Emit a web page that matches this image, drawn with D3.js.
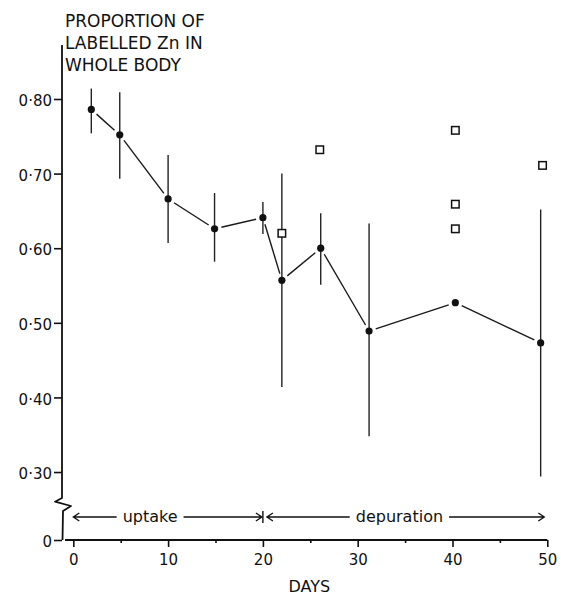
<!DOCTYPE html>
<html>
<head>
<meta charset="utf-8">
<script src="https://cdn.jsdelivr.net/npm/d3@7"></script>
<style>
  html, body { margin: 0; padding: 0; background: #fff; }
  svg { display: block; }
  text { font-family: "DejaVu Sans", sans-serif; fill: #111; }
</style>
</head>
<body>
<svg id="chart" width="564" height="597"></svg>
<script>
// Mean proportion of labelled Zn retained, with ranges
const days   = [1.9, 4.9, 10, 14.9, 20, 22, 26.1, 31.2, 40.3, 49.3];
const means  = [0.786, 0.752, 0.666, 0.626, 0.641, 0.557, 0.600, 0.489, 0.527, 0.473];
const upper  = [0.814, 0.809, 0.725, 0.674, 0.662, 0.700, 0.647, 0.633, null, 0.652];
const lower  = [0.754, 0.693, 0.607, 0.582, 0.619, 0.414, 0.551, 0.348, null, 0.294];

// Individual values shown as open squares
const squareDays   = [22, 26, 40.3, 40.3, 40.3, 49.5];
const squareValues = [0.620, 0.732, 0.758, 0.659, 0.626, 0.711];

// Axis ticks
const xMajorTicks = [0, 10, 20, 30, 40, 50];
const xMinorTicks = [5, 15, 25, 35, 45];
const yTicks      = [0, 0.30, 0.40, 0.50, 0.60, 0.70, 0.80];

// Experimental phases along the time axis
const phaseNames  = ["uptake", "depuration"];
const phaseStart  = [0, 20];
const phaseEnd    = [20, 50];
const phaseLabelAt = [8.1, 34.4];

const titleLines = ["PROPORTION OF", "LABELLED Zn IN", "WHOLE BODY"];
const xTitle = "DAYS";

const svg = d3.select("#chart");
const ink = "#111";

// Scales: y axis is broken between 0 and 0.30
const x = d3.scaleLinear().domain([0, 50]).range([73.3, 547.3]);
const y = d3.scaleLinear().domain([0, 0.24, 0.80]).range([540, 516.8, 99]);

const axisX = 62;
const axisBottom = 540;

// Y axis line with break zigzag
svg.append("path")
  .attr("d", `M${axisX},45 L${axisX},498 L${axisX - 7},501.7 L${axisX + 9},506 L${axisX + 1},511 L${axisX + 0.5},${axisBottom}`)
  .attr("fill", "none").attr("stroke", ink).attr("stroke-width", 1.8)
  .attr("stroke-linejoin", "round");

const fmtY = v => v === 0 ? "0" : d3.format(".2f")(v).replace(".", "\u00b7");

const yAxis = svg.append("g")
  .attr("transform", `translate(${axisX},0)`)
  .call(d3.axisLeft(y).tickValues(yTicks).tickSize(8).tickPadding(2).tickFormat(fmtY));
yAxis.select(".domain").remove();
yAxis.selectAll(".tick line").attr("stroke", ink).attr("stroke-width", 1.6);
yAxis.selectAll(".tick text")
  .attr("dy", "0.45em")
  .style("font-family", "'DejaVu Sans', sans-serif")
  .style("font-size", "15px").attr("fill", ink);

// X axis
svg.append("line")
  .attr("x1", 65).attr("x2", x(50))
  .attr("y1", axisBottom).attr("y2", axisBottom)
  .attr("stroke", ink).attr("stroke-width", 1.8);

const xAxis = svg.append("g")
  .attr("transform", `translate(0,${axisBottom})`)
  .call(d3.axisBottom(x).tickValues(xMajorTicks).tickSize(7).tickPadding(0).tickFormat(d3.format("d")));
xAxis.select(".domain").remove();
xAxis.selectAll(".tick line").attr("stroke", ink).attr("stroke-width", 1.6);
xAxis.selectAll(".tick text")
  .attr("y", 25).attr("dy", 0)
  .style("font-family", "'DejaVu Sans', sans-serif")
  .style("font-size", "15px").attr("fill", ink);

const xMinor = svg.append("g")
  .attr("transform", `translate(0,${axisBottom})`)
  .call(d3.axisBottom(x).tickValues(xMinorTicks).tickSize(3).tickFormat(""));
xMinor.select(".domain").remove();
xMinor.selectAll(".tick line").attr("stroke", ink).attr("stroke-width", 1.6);

// Axis titles
svg.append("g").selectAll("text").data(titleLines).join("text")
  .attr("x", 65).attr("y", (d, i) => 27 + i * 22)
  .style("font-size", "17px")
  .text(d => d);

svg.append("text")
  .attr("x", (x(20) + x(30)) / 2 - 1).attr("y", 592)
  .attr("text-anchor", "middle")
  .style("font-size", "16px")
  .text(xTitle);

// Phase arrows
const rowY = 517;
const phases = phaseNames.map((name, i) => ({
  name, start: phaseStart[i], end: phaseEnd[i], at: phaseLabelAt[i]
}));
const phaseG = svg.append("g");
phases.forEach((p, i) => {
  const g = phaseG.append("g");
  const t = g.append("text")
    .attr("x", x(p.at)).attr("y", rowY + 5)
    .attr("text-anchor", "middle")
    .style("font-size", "16px")
    .text(p.name);
  const w = t.node().getComputedTextLength();
  const left = x(p.start) + (i === 0 ? 0 : 4);
  const right = x(p.end) - (i === 0 ? 1 : 3);
  const tl = x(p.at) - w / 2 - 6, tr = x(p.at) + w / 2 + 6;
  g.append("path")
    .attr("d", `M${left},${rowY} L${tl},${rowY} M${tr},${rowY} L${right},${rowY}` +
      ` M${left + 6},${rowY - 4} L${left},${rowY} L${left + 6},${rowY + 4}` +
      ` M${right - 6},${rowY - 4} L${right},${rowY} L${right - 6},${rowY + 4}`)
    .attr("fill", "none").attr("stroke", ink).attr("stroke-width", 1.3);
});
// divider between phases
svg.append("line")
  .attr("x1", x(20)).attr("x2", x(20))
  .attr("y1", rowY - 6).attr("y2", rowY + 6)
  .attr("stroke", ink).attr("stroke-width", 1.4);

// Data
const pts = days.map((d, i) => ({ day: d, mean: means[i], hi: upper[i], lo: lower[i] }));

// Range bars
svg.append("g").selectAll("line").data(pts.filter(p => p.hi != null)).join("line")
  .attr("x1", p => x(p.day)).attr("x2", p => x(p.day))
  .attr("y1", p => y(p.hi)).attr("y2", p => y(p.lo))
  .attr("stroke", "#222").attr("stroke-width", 1.4);

// Connecting segments, stopping short of each point
const gap = 7;
const segs = d3.pairs(pts).map(([a, b]) => {
  const x1 = x(a.day), y1 = y(a.mean), x2 = x(b.day), y2 = y(b.mean);
  const len = Math.hypot(x2 - x1, y2 - y1);
  const ux = (x2 - x1) / len, uy = (y2 - y1) / len;
  return { x1: x1 + ux * gap, y1: y1 + uy * gap, x2: x2 - ux * gap, y2: y2 - uy * gap };
});
svg.append("g").selectAll("line").data(segs).join("line")
  .attr("x1", s => s.x1).attr("y1", s => s.y1)
  .attr("x2", s => s.x2).attr("y2", s => s.y2)
  .attr("stroke", "#1a1a1a").attr("stroke-width", 1.4);

// Mean points
svg.append("g").selectAll("circle").data(pts).join("circle")
  .attr("cx", p => x(p.day)).attr("cy", p => y(p.mean))
  .attr("r", 3.6).attr("fill", ink);

// Open squares
const sq = 7.5;
svg.append("g").selectAll("rect").data(squareDays.map((d, i) => ({ day: d, v: squareValues[i] }))).join("rect")
  .attr("x", d => x(d.day) - sq / 2).attr("y", d => y(d.v) - sq / 2)
  .attr("width", sq).attr("height", sq)
  .attr("fill", "#fff").attr("stroke", ink).attr("stroke-width", 1.5);
</script>
</body>
</html>
